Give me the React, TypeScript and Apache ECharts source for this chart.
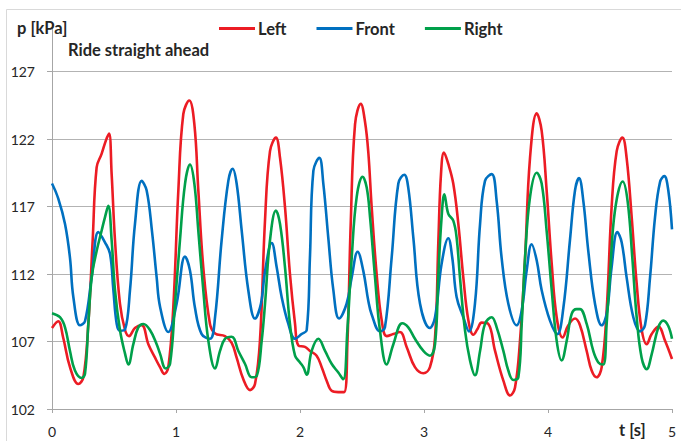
import React, { useEffect, useRef } from "react";
import * as echarts from "echarts";

const seriesNames = ["Left", "Front", "Right"];
const seriesColors = ["#ec1c24", "#0070c0", "#00a04a"];
const yMin = 102;
const yMax = 127;
const yStep = 5;
const xMin = 0;
const xMax = 5;
const xStep = 1;

const tLeft = [0, 0.05, 0.09, 0.145, 0.212, 0.253, 0.293, 0.328, 0.36, 0.4, 0.435, 0.46, 0.481, 0.508, 0.548, 0.589, 0.621, 0.669, 0.723, 0.777, 0.831, 0.871, 0.906, 0.938, 0.978, 1.019, 1.059, 1.107, 1.148, 1.18, 1.22, 1.274, 1.315, 1.395, 1.449, 1.489, 1.543, 1.597, 1.637, 1.677, 1.718, 1.758, 1.806, 1.839, 1.879, 1.919, 1.96, 1.987, 2.04, 2.08, 2.134, 2.175, 2.215, 2.255, 2.309, 2.355, 2.382, 2.409, 2.444, 2.49, 2.524, 2.551, 2.578, 2.618, 2.659, 2.699, 2.753, 2.806, 2.86, 2.927, 2.995, 3.048, 3.089, 3.116, 3.137, 3.161, 3.196, 3.236, 3.277, 3.317, 3.358, 3.398, 3.43, 3.465, 3.519, 3.573, 3.64, 3.694, 3.734, 3.774, 3.815, 3.855, 3.909, 3.949, 3.989, 4.03, 4.07, 4.118, 4.164, 4.218, 4.258, 4.312, 4.352, 4.392, 4.433, 4.473, 4.513, 4.554, 4.6, 4.634, 4.675, 4.715, 4.755, 4.796, 4.836, 4.89, 4.944, 5.0];
const pLeft = [108.0, 108.5, 107.3, 105.1, 103.85, 104.35, 108.3, 114.5, 119.9, 120.9, 121.9, 122.4, 119.4, 114.5, 109.8, 107.85, 107.4, 108.0, 108.2, 106.8, 105.8, 105.1, 104.6, 105.1, 109.5, 118.2, 123.85, 124.85, 123.1, 118.2, 112.5, 108.3, 107.6, 107.4, 106.9, 105.8, 104.2, 103.4, 103.85, 107.05, 116.0, 121.1, 122.1, 120.6, 116.95, 112.0, 108.3, 106.7, 106.6, 106.3, 105.95, 105.1, 104.1, 103.35, 103.25, 103.25, 106.8, 115.7, 123.1, 124.6, 123.3, 121.0, 116.95, 112.0, 108.55, 107.4, 107.55, 107.7, 106.6, 105.1, 104.65, 105.1, 107.3, 114.5, 119.4, 121.0, 120.15, 118.7, 115.7, 111.75, 108.55, 107.5, 107.9, 108.4, 108.3, 106.3, 104.1, 103.0, 103.6, 107.05, 113.2, 120.6, 123.9, 122.6, 118.2, 112.75, 108.8, 107.3, 108.2, 108.7, 108.2, 106.3, 104.85, 104.35, 105.1, 109.3, 116.95, 121.1, 122.1, 120.6, 116.2, 111.3, 107.9, 106.8, 107.55, 108.1, 107.05, 105.7];

const tFront = [0, 0.05, 0.105, 0.145, 0.172, 0.226, 0.266, 0.32, 0.374, 0.427, 0.468, 0.495, 0.522, 0.548, 0.589, 0.629, 0.669, 0.723, 0.763, 0.806, 0.844, 0.871, 0.938, 1.005, 1.073, 1.113, 1.153, 1.207, 1.274, 1.315, 1.368, 1.422, 1.457, 1.489, 1.53, 1.583, 1.637, 1.685, 1.718, 1.772, 1.812, 1.852, 1.906, 1.96, 2.013, 2.054, 2.08, 2.108, 2.156, 2.188, 2.228, 2.269, 2.315, 2.376, 2.417, 2.465, 2.51, 2.551, 2.578, 2.645, 2.685, 2.739, 2.793, 2.841, 2.873, 2.914, 2.968, 3.048, 3.089, 3.142, 3.196, 3.228, 3.263, 3.317, 3.363, 3.411, 3.452, 3.492, 3.546, 3.586, 3.626, 3.68, 3.747, 3.788, 3.828, 3.868, 3.909, 3.949, 4.016, 4.075, 4.124, 4.177, 4.218, 4.25, 4.285, 4.325, 4.379, 4.433, 4.473, 4.513, 4.559, 4.594, 4.634, 4.688, 4.742, 4.782, 4.823, 4.863, 4.903, 4.938, 4.97, 5.0];
const pFront = [118.7, 117.6, 115.7, 113.2, 110.3, 108.2, 108.5, 111.75, 115.1, 114.35, 113.5, 110.8, 108.3, 107.8, 107.9, 110.8, 115.7, 118.9, 118.2, 115.2, 111.75, 109.6, 107.7, 109.8, 113.3, 112.25, 109.5, 107.55, 107.2, 108.8, 114.5, 118.9, 119.8, 118.7, 115.2, 110.8, 108.7, 109.8, 112.2, 114.3, 112.5, 110.3, 108.3, 107.2, 107.55, 107.85, 113.2, 119.65, 120.6, 118.7, 114.7, 110.8, 108.7, 109.8, 111.75, 113.65, 112.25, 110.0, 109.0, 107.75, 108.05, 113.2, 118.7, 119.35, 118.4, 114.7, 109.8, 108.0, 108.8, 112.75, 114.65, 113.2, 110.3, 108.8, 107.75, 109.8, 115.7, 118.9, 119.4, 117.4, 113.2, 109.8, 108.2, 109.3, 112.25, 114.2, 113.0, 110.8, 108.55, 107.55, 109.5, 114.5, 118.2, 119.1, 117.4, 113.7, 109.8, 108.2, 109.05, 112.5, 115.1, 114.35, 111.75, 108.8, 107.75, 108.2, 111.75, 116.2, 118.8, 119.25, 118.2, 115.3];

const tRight = [0, 0.064, 0.105, 0.145, 0.185, 0.239, 0.266, 0.293, 0.32, 0.36, 0.4, 0.427, 0.454, 0.481, 0.508, 0.548, 0.589, 0.616, 0.656, 0.696, 0.737, 0.79, 0.844, 0.871, 0.917, 0.952, 0.992, 1.032, 1.073, 1.113, 1.148, 1.18, 1.22, 1.261, 1.315, 1.355, 1.395, 1.449, 1.503, 1.556, 1.61, 1.651, 1.691, 1.718, 1.758, 1.806, 1.839, 1.879, 1.919, 1.96, 2.0, 2.027, 2.054, 2.094, 2.148, 2.202, 2.255, 2.309, 2.349, 2.382, 2.417, 2.457, 2.505, 2.538, 2.565, 2.605, 2.645, 2.699, 2.753, 2.825, 2.873, 2.927, 2.995, 3.048, 3.089, 3.116, 3.142, 3.164, 3.196, 3.236, 3.263, 3.29, 3.331, 3.371, 3.411, 3.452, 3.492, 3.546, 3.586, 3.64, 3.68, 3.72, 3.761, 3.788, 3.815, 3.855, 3.909, 3.949, 3.989, 4.03, 4.07, 4.11, 4.151, 4.191, 4.231, 4.258, 4.312, 4.365, 4.406, 4.446, 4.473, 4.5, 4.54, 4.602, 4.642, 4.68, 4.715, 4.755, 4.796, 4.836, 4.89, 4.93, 4.97, 5.0];
const pRight = [109.1, 108.8, 108.05, 106.3, 104.85, 104.3, 104.6, 108.3, 111.75, 113.7, 115.2, 116.2, 117.05, 114.5, 110.8, 107.85, 106.1, 105.3, 106.8, 108.05, 108.3, 107.85, 106.8, 106.1, 105.0, 105.35, 109.8, 114.5, 118.7, 120.1, 118.7, 115.2, 110.8, 107.05, 105.0, 106.3, 107.2, 107.35, 106.3, 105.35, 104.35, 104.45, 107.05, 109.8, 114.5, 116.7, 115.7, 112.5, 108.3, 105.95, 105.45, 105.1, 104.55, 106.3, 107.2, 106.3, 105.35, 104.7, 104.2, 107.85, 113.2, 117.7, 119.2, 118.4, 116.2, 111.75, 107.8, 105.3, 106.8, 108.35, 108.05, 107.2, 106.3, 105.95, 106.8, 112.0, 116.2, 117.9, 116.45, 115.95, 114.7, 111.75, 107.8, 105.6, 104.5, 106.3, 108.3, 108.8, 108.05, 106.3, 104.85, 104.15, 104.35, 108.3, 113.2, 117.7, 119.5, 118.7, 115.2, 110.8, 107.05, 105.6, 107.05, 109.05, 109.4, 109.4, 108.3, 106.3, 105.45, 105.3, 108.3, 112.0, 116.7, 118.85, 117.4, 113.2, 108.8, 105.8, 104.95, 106.05, 108.05, 108.55, 108.15, 107.2];

const seriesTimes = [tLeft, tFront, tRight];
const seriesValues = [pLeft, pFront, pRight];

const FONT = 'Lato, "Noto Sans", sans-serif';
const TEXT_COLOR = "#262626";
const BOLD_SIZE = 16.5;

export default function App() {
  const ref = useRef<HTMLDivElement>(null);
  useEffect(() => {
    document.body.style.margin = "0";
    if (!ref.current) return;
    const chart = echarts.init(ref.current, undefined, { renderer: "svg" });
    const series = seriesNames.map((name, i) => ({
      name,
      type: "line",
      data: seriesTimes[i].map((t, j) => [t, seriesValues[i][j]]),
      showSymbol: false,
      symbol: "none",
      smooth: 0.4,
      lineStyle: { color: seriesColors[i], width: 2.6 },
      itemStyle: { color: seriesColors[i] },
      z: 3,
    }));
    chart.setOption({
      animation: false,
      backgroundColor: "#ffffff",
      textStyle: { fontFamily: FONT },
      grid: { left: 52, right: 9, top: 71.5, bottom: 32 },
      legend: {
        data: seriesNames,
        left: 219,
        top: 20,
        padding: 0,
        icon: "rect",
        itemWidth: 36,
        itemHeight: 3,
        itemGap: 30,
        textStyle: { fontFamily: FONT, fontWeight: "bold", fontSize: BOLD_SIZE, color: TEXT_COLOR, padding: [0, 0, 0, -2] },
      },
      xAxis: {
        type: "value",
        min: xMin,
        max: xMax,
        interval: xStep,
        axisLine: { show: true, lineStyle: { color: "#a6a6a6", width: 1 } },
        axisTick: { show: true, length: 4, lineStyle: { color: "#a6a6a6" } },
        splitLine: { show: false },
        axisLabel: { fontFamily: FONT, fontSize: 14, color: TEXT_COLOR, margin: 15 },
      },
      yAxis: {
        type: "value",
        min: yMin,
        max: yMax,
        interval: yStep,
        axisLine: { show: true, lineStyle: { color: "#a6a6a6", width: 1 } },
        axisTick: { show: true, length: 5, lineStyle: { color: "#a6a6a6" } },
        splitLine: { show: true, lineStyle: { color: "#b3b3b3", width: 1.2 } },
        axisLabel: { fontFamily: FONT, fontSize: 14, color: TEXT_COLOR, margin: 17 },
      },
      graphic: [
        {
          type: "rect",
          z: -1,
          shape: { x: 6.5, y: 9.5, width: 720, height: 480 },
          style: { fill: "none", stroke: "#d9d9d9", lineWidth: 1 },
        },
        {
          type: "line",
          shape: { x1: 52.5, y1: 23, x2: 52.5, y2: 72 },
          style: { stroke: "#a6a6a6", lineWidth: 1 },
        },
        {
          type: "text",
          left: 17,
          top: 19,
          style: { text: "p [kPa]", fontFamily: FONT, fontWeight: "bold", fontSize: BOLD_SIZE, fill: TEXT_COLOR },
        },
        {
          type: "text",
          left: 68,
          top: 41,
          style: { text: "Ride straight ahead", fontFamily: FONT, fontWeight: "bold", fontSize: BOLD_SIZE, fill: TEXT_COLOR },
        },
        {
          type: "text",
          left: 619,
          top: 421,
          style: { text: "t [s]", fontFamily: FONT, fontWeight: "bold", fontSize: BOLD_SIZE, fill: TEXT_COLOR },
        },
      ],
      series,
    });
    return () => chart.dispose();
  }, []);
  return <div ref={ref} style={{ width: 681, height: 441 }} />;
}
